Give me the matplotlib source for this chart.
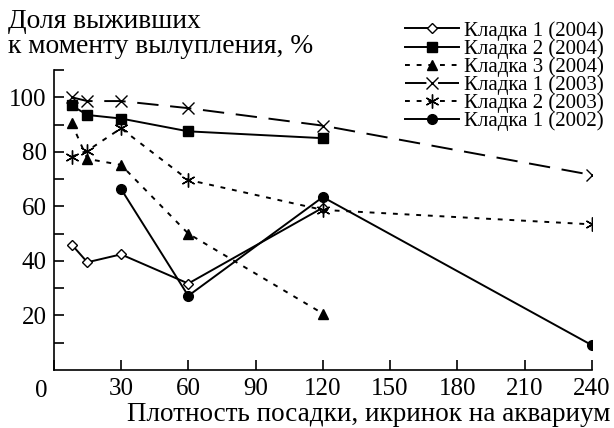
import numpy as np
import matplotlib
matplotlib.use('Agg')
import matplotlib.pyplot as plt

plt.rcParams['font.family'] = ['Liberation Serif', 'DejaVu Serif']

# плотность посадки (икринок на аквариум)
x_k1_2004 = [8, 15, 30, 60, 120]
y_k1_2004 = [46, 39.5, 42.4, 31.7, 59.5]

x_k2_2004 = [8, 15, 30, 60, 120]
y_k2_2004 = [97, 93.5, 92.2, 87.5, 85]

x_k3_2004 = [8, 15, 30, 60, 120]
y_k3_2004 = [90.5, 77.4, 75.2, 50, 20.7]

x_k1_2003 = [8, 15, 30, 60, 120, 240]
y_k1_2003 = [100, 98.6, 98.6, 96, 89.6, 71.5]

x_k2_2003 = [8, 15, 30, 60, 120, 240]
y_k2_2003 = [78.2, 80.4, 88.6, 69.7, 58.7, 53.4]

x_k1_2002 = [30, 60, 120, 240]
y_k1_2002 = [66.4, 27.2, 63.4, 9.1]

fig = plt.figure(figsize=(6.14, 4.28), dpi=100)
ax = fig.add_axes([0.0875, 0.1355, 0.8765, 0.701])

lw = 1.4
dot = (0, (2.5, 3.5))
ax.plot(x_k1_2004, y_k1_2004, '-', color='k', lw=lw, marker='D', ms=5,
        mfc='white', mec='k', mew=1, label='Кладка 1 (2004)')
ax.plot(x_k2_2004, y_k2_2004, '-', color='k', lw=lw, marker='s', ms=7,
        label='Кладка 2 (2004)')
ax.plot(x_k3_2004, y_k3_2004, linestyle=dot, color='k', lw=lw, marker='^', ms=7,
        label='Кладка 3 (2004)')
ax.plot(x_k1_2003, y_k1_2003, linestyle=(0, (11, 6)), color='k', lw=lw, marker='x',
        ms=8, mew=1, label='Кладка 1 (2003)')
ax.plot(x_k2_2003, y_k2_2003, linestyle=dot, color='k', lw=lw, marker=(6, 2, 0),
        ms=10, mew=1, label='Кладка 2 (2003)')
ax.plot(x_k1_2002, y_k1_2002, '-', color='k', lw=lw, marker='o', ms=7,
        label='Кладка 1 (2002)')

ax.set_xlim(0, 240)
ax.set_ylim(0, 110)
ax.spines['top'].set_visible(False)
ax.spines['right'].set_visible(False)
ax.spines['left'].set_linewidth(1.2)
ax.spines['bottom'].set_linewidth(1.2)

ax.set_xticks([0, 30, 60, 90, 120, 150, 180, 210, 240])
ax.set_xticklabels(['', '30', '60', '90', '120', '150', '180', '210', '240'])
ax.set_yticks([20, 40, 60, 80, 100])
ax.set_yticks([10, 30, 50, 70, 90, 110], minor=True)
ax.tick_params(which='both', direction='in', length=7, width=1.2,
               labelsize=18, pad=5)
ax.tick_params(axis='x', pad=6)
ax.text(-5.5, -3.5, '0', fontsize=18, ha='center', va='top')

fig.text(8 / 614, 1 - 28 / 428, 'Доля выживших', fontsize=19.8,
         ha='left', va='baseline')
fig.text(8 / 614, 1 - 53 / 428, 'к моменту вылупления, %', fontsize=19.8,
         ha='left', va='baseline')
fig.text(0.9935, 7 / 428, 'Плотность посадки, икринок на аквариум', fontsize=19.5,
         ha='right', va='baseline')

ax.legend(loc='upper left', bbox_to_anchor=(405 / 614, 1 - 21 / 428),
          bbox_transform=fig.transFigure, frameon=False, fontsize=15,
          handlelength=2.6, handletextpad=0.25, labelspacing=-0.08,
          borderpad=0, borderaxespad=0)

fig.savefig('out.png', dpi=100)
